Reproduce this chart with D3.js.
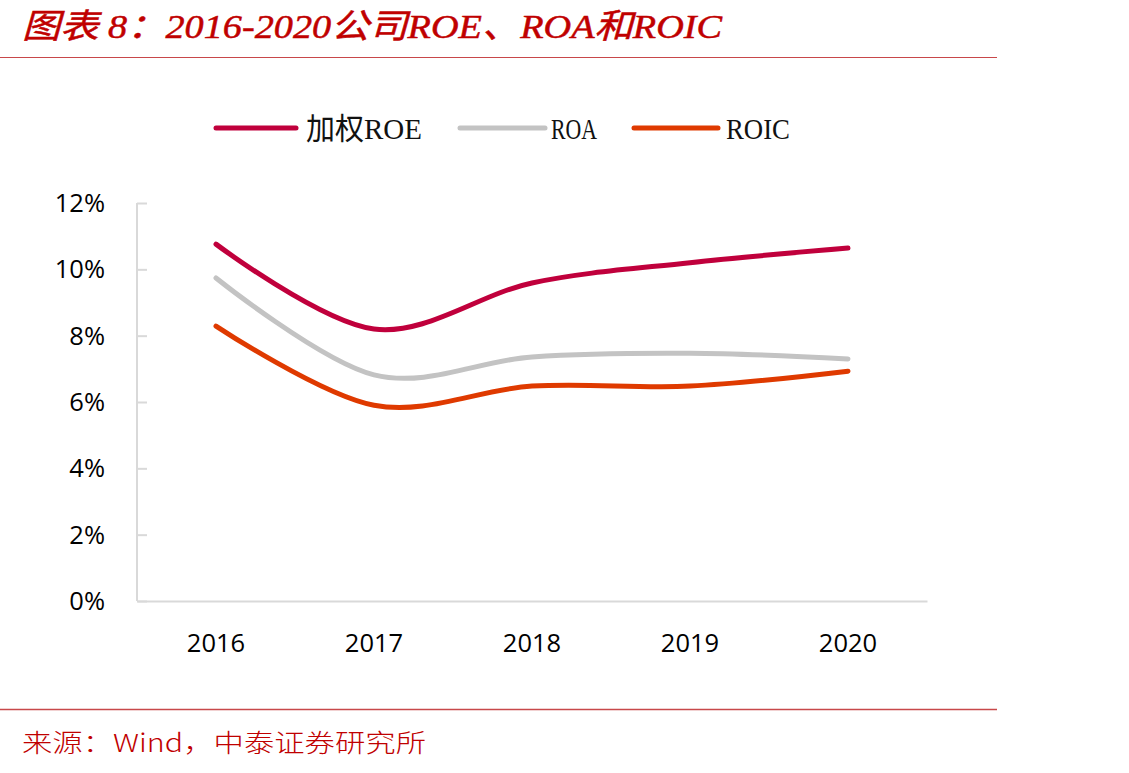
<!DOCTYPE html>
<html><head><meta charset="utf-8">
<script src="https://cdn.jsdelivr.net/npm/d3@7/dist/d3.min.js"></script>
<style>body{margin:0;background:#fff}svg{display:block}</style>
</head><body><svg id="c" width="1129" height="773"></svg>
<script>
const years = ["2016","2017","2018","2019","2020"];
const roe  = [10.76, 8.20, 9.59, 10.20, 10.64];
const roa  = [9.74, 6.82, 7.36, 7.47, 7.30];
const roic = [8.29, 5.90, 6.48, 6.48, 6.93];
const seriesNames = ["加权ROE","ROA","ROIC"];
const seriesColors = ["#c0003c","#c3c3c3","#df3a00"];
const yTicks = [0,2,4,6,8,10,12];

const svg = d3.select("#c");
const red = "#c00000";

// title
svg.append("text").attr("x",22).attr("y",38)
  .attr("font-family","'Liberation Serif','Noto Sans CJK SC',serif")
  .attr("font-style","italic").attr("font-size",34).attr("fill",red)
  .attr("stroke",red).attr("stroke-width",0.5)
  .attr("textLength",700).attr("lengthAdjust","spacingAndGlyphs")
  .text("图表 8：2016-2020公司ROE、ROA和ROIC");
svg.append("line").attr("x1",0).attr("x2",997).attr("y1",57.5).attr("y2",57.5)
  .attr("stroke","#c8484a").attr("stroke-width",1.2);
svg.append("line").attr("x1",0).attr("x2",997).attr("y1",709.5).attr("y2",709.5)
  .attr("stroke","#c8484a").attr("stroke-width",1.5);
svg.append("text").attr("x",22).attr("y",752)
  .attr("font-family","'Noto Sans CJK SC',sans-serif").attr("font-weight",300)
  .attr("font-size",25).attr("fill",red)
  .attr("textLength",404).attr("lengthAdjust","spacingAndGlyphs")
  .text("来源：Wind，中泰证券研究所");

const x = d3.scaleBand().domain(years).range([137,927]);
const y = d3.scaleLinear().domain([0,12]).range([601,203]);

// y axis
const ya = svg.append("g").attr("transform","translate(137,0)")
  .call(d3.axisRight(y).tickValues(yTicks).tickSize(10).tickFormat(""));
ya.select(".domain").attr("stroke","#d9d9d9").attr("stroke-width",2).attr("d","M0,203V601");
ya.selectAll(".tick line").attr("stroke","#d9d9d9").attr("stroke-width",2);
svg.append("g").selectAll("text").data(yTicks).join("text")
  .attr("x",105).attr("y",d=>y(d)).attr("dy","0.35em").attr("text-anchor","end")
  .attr("font-family","'Open Sans','Liberation Sans',sans-serif").attr("font-size",25.5).attr("fill","#000")
  .text(d=>d+"%");

// x axis
const xa = svg.append("g").attr("transform","translate(0,601)")
  .call(d3.axisBottom(x).tickSize(0).tickFormat(""));
xa.select(".domain").attr("stroke","#d9d9d9").attr("stroke-width",2);
svg.append("g").selectAll("text").data(years).join("text")
  .attr("x",d=>x(d)+x.bandwidth()/2).attr("y",643).attr("dy","0.35em").attr("text-anchor","middle")
  .attr("font-family","'Open Sans','Liberation Sans',sans-serif").attr("font-size",25.5).attr("fill","#000")
  .text(d=>d);

// lines
const data = [roe, roa, roic];
const line = d3.line().x((d,i)=>x(years[i])+x.bandwidth()/2).y(d=>y(d)).curve(d3.curveCardinal.tension(0));
[1,2,0].forEach(k=>{
  svg.append("path").attr("d",line(data[k])).attr("fill","none")
    .attr("stroke",seriesColors[k]).attr("stroke-width",5).attr("stroke-linecap","round");
});

// legend
const leg = [{x1:216,x2:296,tx:306,tw:116},{x1:460,x2:545,tx:551,tw:46},{x1:634,x2:718,tx:726,tw:64}];
leg.forEach((l,k)=>{
  svg.append("line").attr("x1",l.x1).attr("x2",l.x2).attr("y1",128).attr("y2",128)
    .attr("stroke",seriesColors[k]).attr("stroke-width",5).attr("stroke-linecap","round");
  svg.append("text").attr("x",l.tx).attr("y",139)
    .attr("font-family","'Liberation Serif','Noto Sans CJK SC',serif").attr("font-size",30).attr("fill","#111")
    .attr("textLength",l.tw).attr("lengthAdjust","spacingAndGlyphs")
    .text(seriesNames[k]);
});
</script></body></html>
